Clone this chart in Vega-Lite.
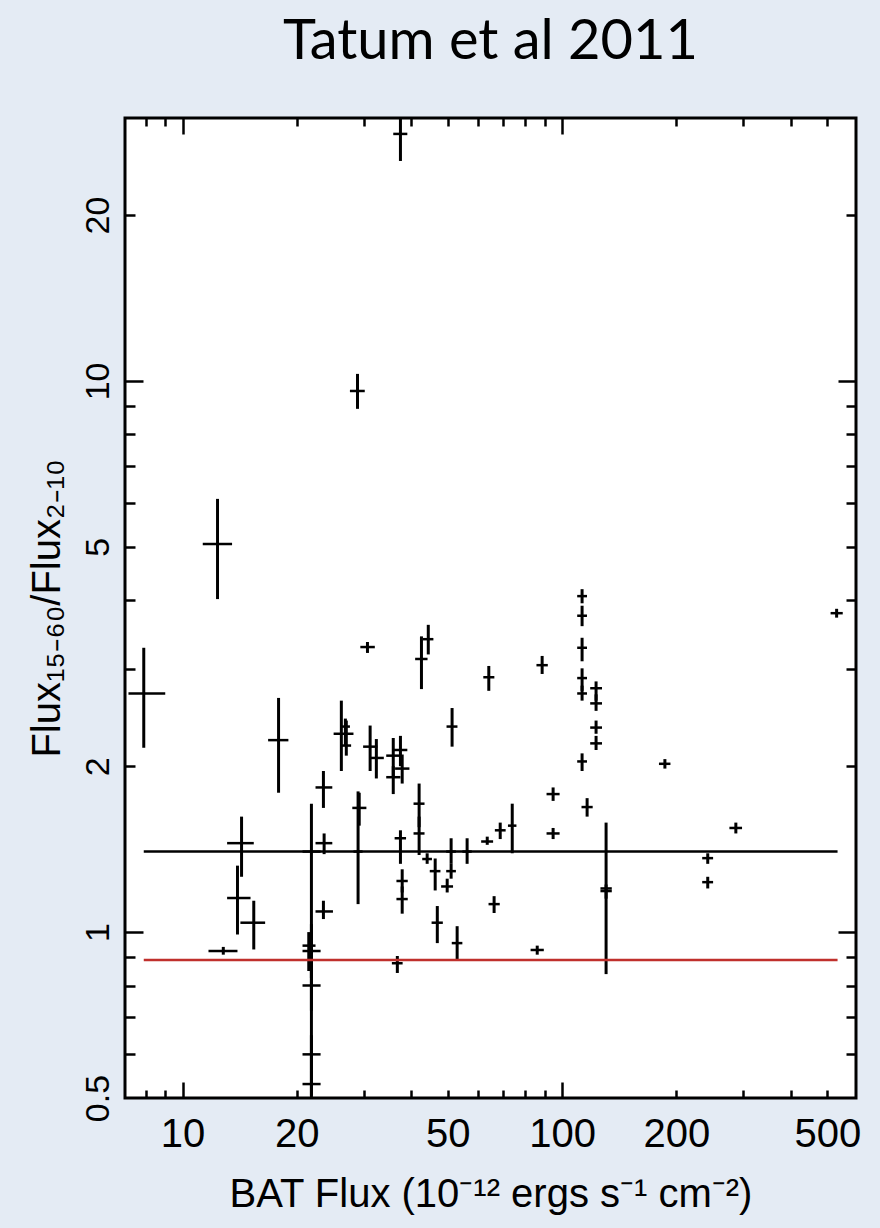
{
  "$schema": "https://vega.github.io/schema/vega-lite/v6.json",
  "width": 731,
  "height": 980,
  "autosize": {"type": "none"},
  "padding": {"left": 125, "top": 118, "right": 24, "bottom": 130},
  "background": "#e4ebf4",
  "title": {"text": "Tatum et al 2011", "font": "Lato", "fontSize": 56, "fontWeight": "normal", "color": "black", "anchor": "middle", "baseline": "alphabetic", "offset": 2},
  "config": {
    "view": {"fill": "white", "stroke": "black", "strokeWidth": 3},
    "axis": {"grid": false, "domain": false, "tickColor": "black", "tickWidth": 2.5, "labelColor": "black", "titleColor": "black", "labelFont": "Liberation Sans", "titleFont": "Liberation Sans", "titleFontWeight": "normal"}
  },
  "datasets": {
    "pts": [
      {"x": 7.9, "xl": 7.2, "xh": 9.0, "y": 2.71, "yl": 2.16, "yh": 3.28},
      {"x": 12.36, "xl": 11.3, "xh": 13.5, "y": 5.06, "yl": 4.02, "yh": 6.11},
      {"x": 12.8, "xl": 11.7, "xh": 13.95, "y": 0.924, "yl": 0.91, "yh": 0.94},
      {"x": 13.95, "xl": 13.1, "xh": 15.1, "y": 1.153, "yl": 0.99, "yh": 1.32},
      {"x": 14.3, "xl": 13.1, "xh": 15.4, "y": 1.45, "yl": 1.26, "yh": 1.62},
      {"x": 15.4, "xl": 14.2, "xh": 16.5, "y": 1.04, "yl": 0.93, "yh": 1.14},
      {"x": 17.9, "xl": 16.8, "xh": 19.0, "y": 2.23, "yl": 1.79, "yh": 2.66},
      {"x": 21.85, "xl": 20.7, "xh": 23.1, "y": 1.40, "yl": 0.50, "yh": 1.71},
      {"x": 21.85, "xl": 20.7, "xh": 23.1, "y": 0.924, "yl": 0.825, "yh": 1.034},
      {"x": 21.5, "xl": 20.7, "xh": 22.4, "y": 0.945, "yl": 0.85, "yh": 1.0},
      {"x": 21.85, "xl": 20.7, "xh": 23.1, "y": 0.80, "yl": 0.72, "yh": 0.88},
      {"x": 21.85, "xl": 20.7, "xh": 23.1, "y": 0.60, "yl": 0.56, "yh": 0.65},
      {"x": 21.85, "xl": 20.7, "xh": 23.1, "y": 0.53, "yl": 0.505, "yh": 0.56},
      {"x": 23.5, "xl": 22.4, "xh": 24.8, "y": 1.83, "yl": 1.68, "yh": 1.96},
      {"x": 23.6, "xl": 22.4, "xh": 24.8, "y": 1.45, "yl": 1.385, "yh": 1.51},
      {"x": 23.5, "xl": 22.4, "xh": 24.9, "y": 1.09, "yl": 1.056, "yh": 1.14},
      {"x": 26.2, "xl": 25.0, "xh": 28.2, "y": 2.29, "yl": 1.96, "yh": 2.63},
      {"x": 26.85, "xl": 26.2, "xh": 27.6, "y": 2.36, "yl": 2.18, "yh": 2.44},
      {"x": 27.0, "xl": 26.2, "xh": 27.8, "y": 2.18, "yl": 2.09, "yh": 2.42},
      {"x": 28.9, "xl": 27.6, "xh": 30.2, "y": 9.59, "yl": 8.9, "yh": 10.3},
      {"x": 30.7, "xl": 29.4, "xh": 32.1, "y": 3.29, "yl": 3.21, "yh": 3.36},
      {"x": 37.5, "xl": 35.9, "xh": 39.1, "y": 28.07, "yl": 25.07, "yh": 29.9},
      {"x": 31.2, "xl": 29.9, "xh": 32.6, "y": 2.17, "yl": 1.96, "yh": 2.37},
      {"x": 32.4, "xl": 31.0, "xh": 33.9, "y": 2.07, "yl": 1.90, "yh": 2.24},
      {"x": 35.9, "xl": 34.4, "xh": 37.5, "y": 2.09, "yl": 1.92, "yh": 2.25},
      {"x": 37.5, "xl": 35.9, "xh": 39.1, "y": 2.14, "yl": 2.0, "yh": 2.27},
      {"x": 37.9, "xl": 36.3, "xh": 39.6, "y": 1.98, "yl": 1.86, "yh": 2.10},
      {"x": 35.9, "xl": 34.4, "xh": 37.5, "y": 1.91, "yl": 1.78, "yh": 2.0},
      {"x": 29.2, "xl": 28.0, "xh": 30.5, "y": 1.68, "yl": 1.56, "yh": 1.79},
      {"x": 29.0, "xl": 28.2, "xh": 29.8, "y": 1.40, "yl": 1.124, "yh": 1.80},
      {"x": 37.5, "xl": 36.2, "xh": 38.8, "y": 1.48, "yl": 1.33, "yh": 1.53},
      {"x": 37.9, "xl": 36.6, "xh": 39.2, "y": 1.238, "yl": 1.18, "yh": 1.30},
      {"x": 37.9, "xl": 36.6, "xh": 39.2, "y": 1.148, "yl": 1.08, "yh": 1.21},
      {"x": 36.8, "xl": 35.6, "xh": 38.0, "y": 0.878, "yl": 0.843, "yh": 0.905},
      {"x": 42.0, "xl": 40.6, "xh": 43.4, "y": 1.71, "yl": 1.55, "yh": 1.86},
      {"x": 42.0, "xl": 40.6, "xh": 43.4, "y": 1.51, "yl": 1.38, "yh": 1.62},
      {"x": 42.6, "xl": 41.0, "xh": 44.2, "y": 3.13, "yl": 2.76, "yh": 3.44},
      {"x": 44.4, "xl": 43.0, "xh": 45.8, "y": 3.40, "yl": 3.19, "yh": 3.61},
      {"x": 44.1, "xl": 42.8, "xh": 45.4, "y": 1.357, "yl": 1.33, "yh": 1.39},
      {"x": 46.3, "xl": 44.8, "xh": 47.8, "y": 1.29, "yl": 1.19, "yh": 1.36},
      {"x": 46.9, "xl": 45.3, "xh": 48.5, "y": 1.04, "yl": 0.955, "yh": 1.115},
      {"x": 51.3, "xl": 49.6, "xh": 53.0, "y": 2.36, "yl": 2.17, "yh": 2.55},
      {"x": 51.0, "xl": 49.5, "xh": 52.5, "y": 1.40, "yl": 1.33, "yh": 1.48},
      {"x": 51.0, "xl": 49.5, "xh": 52.5, "y": 1.29, "yl": 1.25, "yh": 1.33},
      {"x": 49.8, "xl": 48.0, "xh": 51.6, "y": 1.21, "yl": 1.18, "yh": 1.25},
      {"x": 52.9, "xl": 51.2, "xh": 54.6, "y": 0.955, "yl": 0.893, "yh": 1.025},
      {"x": 56.2, "xl": 54.6, "xh": 57.8, "y": 1.40, "yl": 1.33, "yh": 1.48},
      {"x": 63.5, "xl": 61.2, "xh": 65.8, "y": 1.46, "yl": 1.44, "yh": 1.49},
      {"x": 64.1, "xl": 62.0, "xh": 66.3, "y": 2.90, "yl": 2.74, "yh": 3.04},
      {"x": 66.2, "xl": 64.0, "xh": 68.5, "y": 1.124, "yl": 1.083, "yh": 1.162},
      {"x": 68.7, "xl": 66.5, "xh": 71.0, "y": 1.53, "yl": 1.475, "yh": 1.58},
      {"x": 73.9, "xl": 72.0, "xh": 75.8, "y": 1.56, "yl": 1.39, "yh": 1.71},
      {"x": 86.0, "xl": 82.6, "xh": 89.5, "y": 0.928, "yl": 0.91, "yh": 0.945},
      {"x": 88.6, "xl": 85.6, "xh": 91.7, "y": 3.05, "yl": 2.94, "yh": 3.17},
      {"x": 94.7, "xl": 91.0, "xh": 98.5, "y": 1.78, "yl": 1.73, "yh": 1.83},
      {"x": 94.7, "xl": 91.0, "xh": 98.5, "y": 1.51, "yl": 1.475, "yh": 1.545},
      {"x": 116.4, "xl": 112.5, "xh": 120.4, "y": 1.686, "yl": 1.62, "yh": 1.75},
      {"x": 112.9, "xl": 109.6, "xh": 116.3, "y": 4.07, "yl": 3.95, "yh": 4.19},
      {"x": 112.9, "xl": 109.6, "xh": 116.3, "y": 3.75, "yl": 3.59, "yh": 3.91},
      {"x": 112.9, "xl": 109.6, "xh": 116.3, "y": 3.28, "yl": 3.10, "yh": 3.42},
      {"x": 112.9, "xl": 109.6, "xh": 116.3, "y": 2.89, "yl": 2.74, "yh": 3.01},
      {"x": 112.9, "xl": 109.6, "xh": 116.3, "y": 2.71, "yl": 2.63, "yh": 2.80},
      {"x": 112.9, "xl": 109.6, "xh": 116.3, "y": 2.04, "yl": 1.96, "yh": 2.11},
      {"x": 122.9, "xl": 118.6, "xh": 127.4, "y": 2.77, "yl": 2.63, "yh": 2.85},
      {"x": 122.9, "xl": 118.6, "xh": 127.4, "y": 2.60, "yl": 2.52, "yh": 2.70},
      {"x": 122.9, "xl": 118.6, "xh": 127.4, "y": 2.35, "yl": 2.29, "yh": 2.42},
      {"x": 122.9, "xl": 118.6, "xh": 127.4, "y": 2.20, "yl": 2.14, "yh": 2.27},
      {"x": 130.6, "xl": 126.2, "xh": 135.2, "y": 1.20, "yl": 0.839, "yh": 1.58},
      {"x": 130.6, "xl": 126.2, "xh": 135.2, "y": 1.187, "yl": 1.15, "yh": 1.22},
      {"x": 186.6, "xl": 180, "xh": 193, "y": 2.02, "yl": 1.98, "yh": 2.06},
      {"x": 242, "xl": 234, "xh": 250, "y": 1.362, "yl": 1.33, "yh": 1.39},
      {"x": 242, "xl": 234, "xh": 250, "y": 1.232, "yl": 1.20, "yh": 1.26},
      {"x": 287, "xl": 276, "xh": 298, "y": 1.545, "yl": 1.51, "yh": 1.58},
      {"x": 529, "xl": 510, "xh": 549, "y": 3.79, "yl": 3.72, "yh": 3.86}
    ],
    "lines": [
      {"kind": "mean", "x1": 7.9, "x2": 532, "y": 1.4},
      {"kind": "other", "x1": 7.9, "x2": 532, "y": 0.89}
    ]
  },
  "resolve": {"axis": {"x": "independent", "y": "independent"}},
  "layer": [
    {
      "data": {"name": "pts"},
      "mark": {"type": "rule", "color": "black", "strokeWidth": 3},
      "encoding": {
        "x": {"field": "x", "type": "quantitative", "scale": {"type": "log", "domain": [7.05, 595], "nice": false},
              "axis": {"orient": "bottom", "values": [8, 9, 10, 20, 30, 40, 50, 60, 70, 80, 90, 100, 200, 300, 400, 500], "labels": false, "title": null,
                       "tickSize": {"condition": {"test": "datum.value === 10 || datum.value === 100", "value": -16}, "value": -8}}},
        "y": {"field": "yl", "type": "quantitative", "scale": {"type": "log", "domain": [0.5, 30], "nice": false},
              "axis": {"orient": "left", "values": [0.6, 0.7, 0.8, 0.9, 1, 2, 3, 4, 5, 6, 7, 8, 9, 10, 20], "labels": false, "title": null,
                       "tickSize": {"condition": {"test": "datum.value === 1 || datum.value === 10", "value": -18}, "value": -10}}},
        "y2": {"field": "yh"}
      }
    },
    {
      "data": {"name": "pts"},
      "mark": {"type": "rule", "color": "black", "strokeWidth": 2.5},
      "encoding": {
        "x": {"field": "xl", "type": "quantitative", "scale": {"type": "log", "domain": [7.05, 595], "nice": false},
              "axis": {"orient": "top", "values": [8, 9, 10, 20, 30, 40, 50, 60, 70, 80, 90, 100, 200, 300, 400, 500], "labels": false, "title": null,
                       "tickSize": {"condition": {"test": "datum.value === 10 || datum.value === 100", "value": -16}, "value": -8}}},
        "x2": {"field": "xh"},
        "y": {"field": "y", "type": "quantitative", "scale": {"type": "log", "domain": [0.5, 30], "nice": false},
              "axis": {"orient": "right", "values": [0.6, 0.7, 0.8, 0.9, 1, 2, 3, 4, 5, 6, 7, 8, 9, 10, 20], "labels": false, "title": null,
                       "tickSize": {"condition": {"test": "datum.value === 1 || datum.value === 10", "value": -18}, "value": -10}}}
      }
    },
    {
      "data": {"name": "lines"},
      "mark": {"type": "rule", "strokeWidth": 2.5},
      "encoding": {
        "x": {"field": "x1", "type": "quantitative", "scale": {"type": "log", "domain": [7.05, 595], "nice": false},
              "axis": {"orient": "bottom", "values": [10, 20, 50, 100, 200, 500], "ticks": false, "format": "~g", "labelPadding": 16, "labelFontSize": 40, "labelFlush": false, "labelOverlap": false,
                       "title": "BAT Flux (10⁻¹² ergs s⁻¹ cm⁻²)", "titleFontSize": 40, "titlePadding": 20}},
        "x2": {"field": "x2"},
        "y": {"field": "y", "type": "quantitative", "scale": {"type": "log", "domain": [0.5, 30], "nice": false},
              "axis": {"orient": "left", "values": [0.5, 1, 2, 5, 10, 20], "ticks": false, "format": "~g", "labelPadding": 10, "labelFontSize": 34, "labelAngle": -90, "labelAlign": "center", "labelBaseline": "bottom", "labelFlush": false, "labelOverlap": false,
                       "title": "Flux₁₅₋₆₀/Flux₂₋₁₀", "titleFontSize": 40, "titlePadding": 14}},
        "color": {"field": "kind", "type": "nominal", "scale": {"domain": ["mean", "other"], "range": ["black", "#c0302c"]}, "legend": null}
      }
    }
  ]
}
